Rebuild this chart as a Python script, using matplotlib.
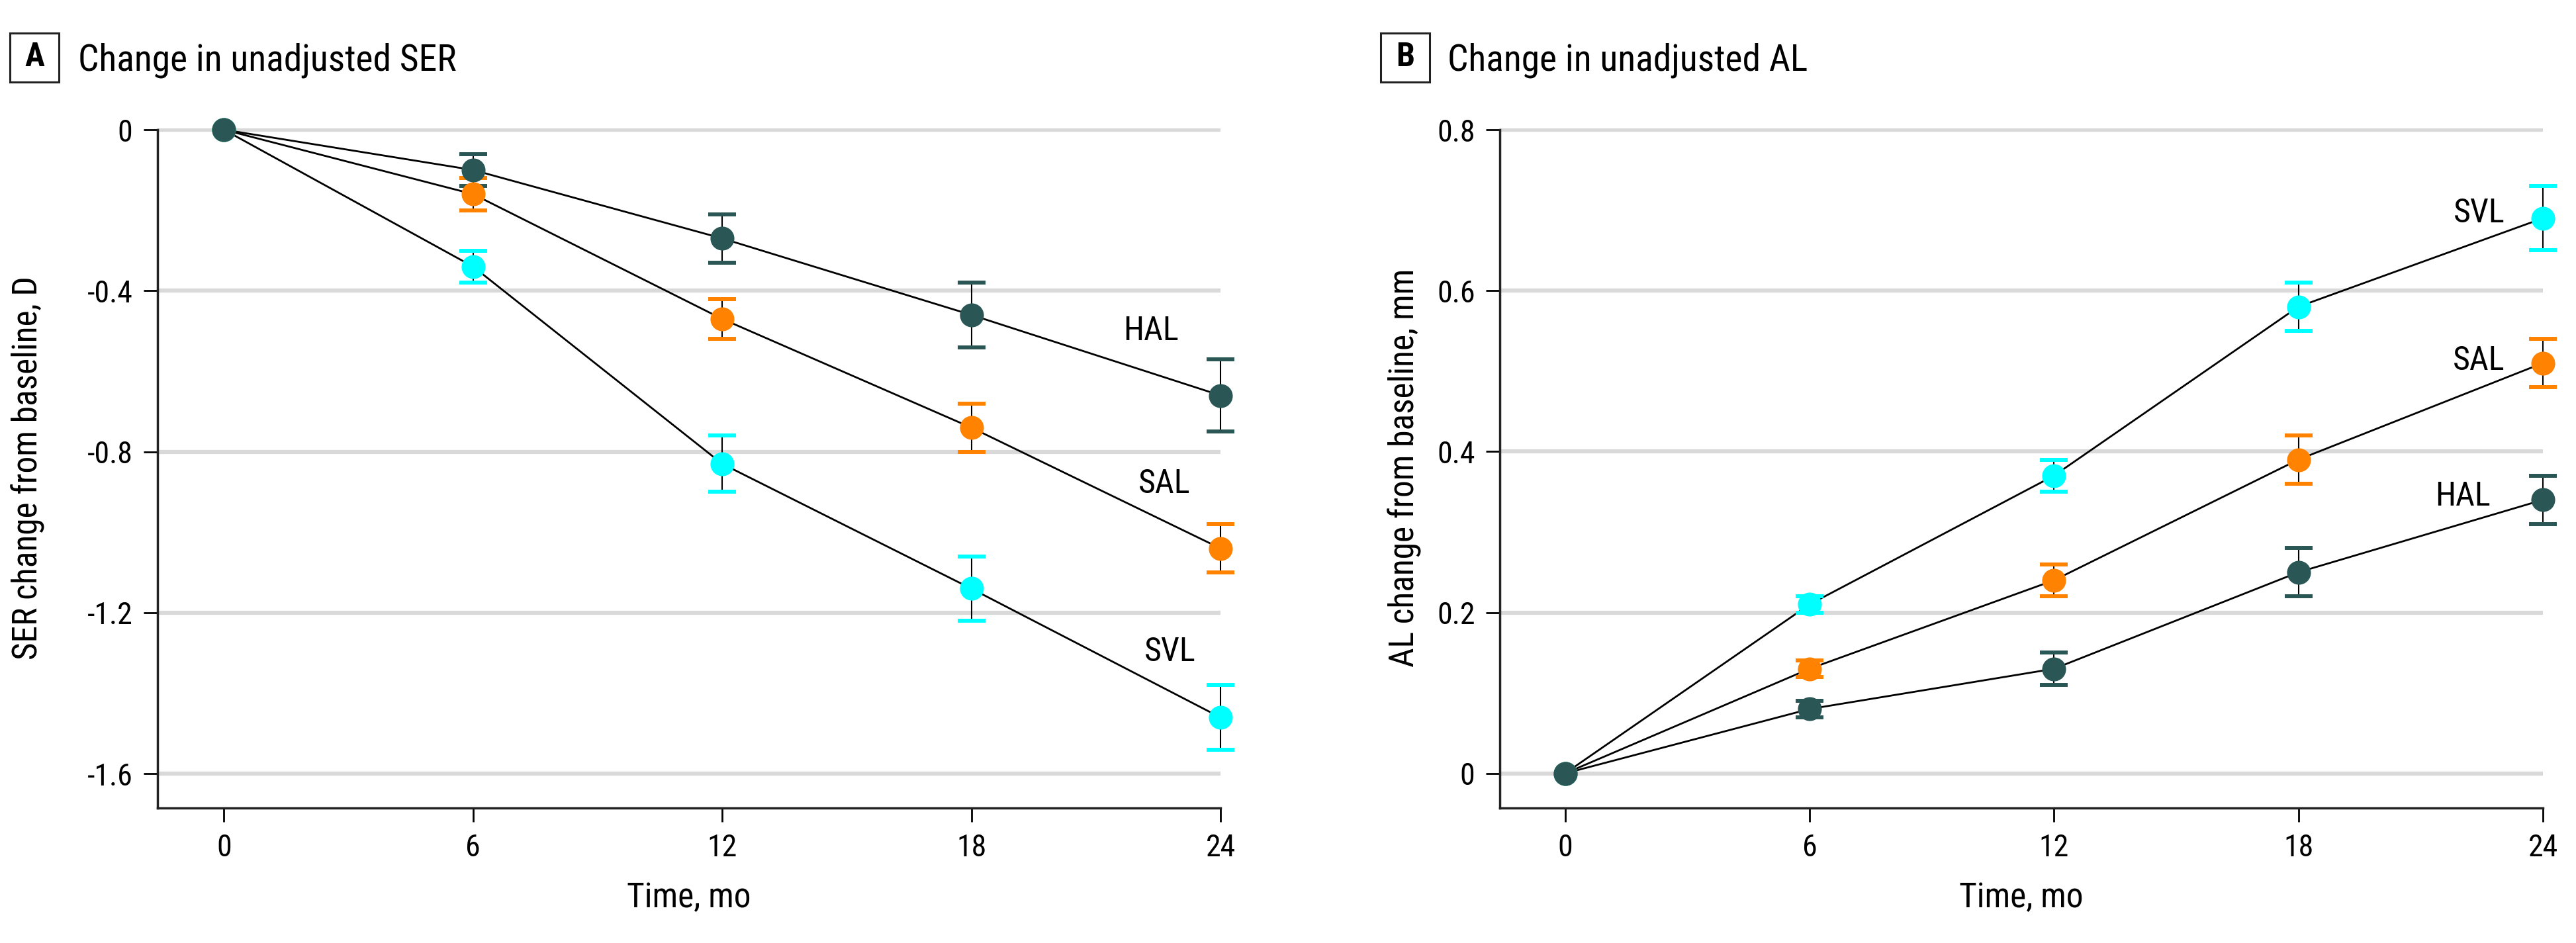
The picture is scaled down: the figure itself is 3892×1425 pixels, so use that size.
import matplotlib
matplotlib.use("Agg")
import matplotlib.pyplot as plt
from matplotlib import font_manager
from matplotlib.patches import Rectangle

# pick a narrow sans if available
def pick_font():
    for name in ["Liberation Sans Narrow", "Roboto Condensed", "Open Sans Condensed"]:
        try:
            font_manager.findfont(name, fallback_to_default=False)
            return name
        except Exception:
            pass
    return "DejaVu Sans"

FONT = pick_font()
plt.rcParams['font.family'] = [FONT, 'DejaVu Sans']
plt.rcParams['axes.unicode_minus'] = False

# Data
months = [0, 6, 12, 18, 24]
groups = ["HAL", "SAL", "SVL"]

ser_hal = [0, -0.10, -0.27, -0.46, -0.66]
ser_sal = [0, -0.16, -0.47, -0.74, -1.04]
ser_svl = [0, -0.34, -0.83, -1.14, -1.46]
ser_hal_err = [0.04, 0.06, 0.08, 0.09]
ser_sal_err = [0.04, 0.05, 0.06, 0.06]
ser_svl_err = [0.04, 0.07, 0.08, 0.08]

al_hal = [0, 0.08, 0.13, 0.25, 0.34]
al_sal = [0, 0.13, 0.24, 0.39, 0.51]
al_svl = [0, 0.21, 0.37, 0.58, 0.69]
al_hal_err = [0.01, 0.02, 0.03, 0.03]
al_sal_err = [0.01, 0.02, 0.03, 0.03]
al_svl_err = [0.01, 0.02, 0.03, 0.04]

ser_yticks = [0, -0.4, -0.8, -1.2, -1.6]
ser_yticklabels = ["0", "-0.4", "-0.8", "-1.2", "-1.6"]
al_yticks = [0, 0.2, 0.4, 0.6, 0.8]
al_yticklabels = ["0", "0.2", "0.4", "0.6", "0.8"]

colors = {"HAL": "#2a5755", "SAL": "#ff8200", "SVL": "#00ffff"}

W, H = 3892, 1425
fig = plt.figure(figsize=(W / 100, H / 100), dpi=100)

def fx(px):
    return px / W

def fy(px):
    return 1 - px / H

axA = fig.add_axes([fx(238), fy(1221), fx(1844) - fx(238), fy(193.6) - fy(1221)])
axB = fig.add_axes([fx(2266), fy(1221), fx(3842) - fx(2266), fy(193.6) - fy(1221)])

def draw_panel(ax, series, errs, yticks, yticklabels, ylim, label_pos):
    for g in groups:
        y = series[g]
        ax.plot(months, y, color='black', lw=2.0, zorder=3, clip_on=False)
        _, caps, bars = ax.errorbar(months[1:], y[1:], yerr=errs[g], fmt='none',
                                    ecolor='black', elinewidth=1.5, capsize=15,
                                    capthick=4.3, zorder=4)
        for c in caps:
            c.set_markeredgecolor(colors[g])
            c.set_color(colors[g])
            c.set_clip_on(False)
        for b in bars:
            b.set_clip_on(False)
        ax.plot(months, y, 'o', color=colors[g], ms=26, mew=0, zorder=5, clip_on=False)
    # zero point drawn last in HAL color
    ax.plot(months[:1], series["HAL"][:1], 'o', color=colors["HAL"], ms=26, mew=0,
            zorder=6, clip_on=False)
    for g in groups:
        lx, ly = label_pos[g]
        ax.text(lx, ly, g, ha='right', va='center', fontsize=36, zorder=7)

    ax.set_xlim(-1.6, 24)
    ax.set_ylim(*ylim)
    ax.set_xticks(months)
    ax.set_xticklabels([str(m) for m in months])
    ax.set_yticks(yticks)
    ax.set_yticklabels(yticklabels)
    ax.tick_params(axis='both', labelsize=33, length=15, width=2, color='black', pad=12)
    ax.grid(axis='y', color='#d9d9d9', lw=4.5, zorder=0)
    ax.set_axisbelow(True)
    for s in ['top', 'right']:
        ax.spines[s].set_visible(False)
    for s in ['left', 'bottom']:
        ax.spines[s].set_linewidth(2.5)
        ax.spines[s].set_color('#222222')

draw_panel(axA,
           {"HAL": ser_hal, "SAL": ser_sal, "SVL": ser_svl},
           {"HAL": ser_hal_err, "SAL": ser_sal_err, "SVL": ser_svl_err},
           ser_yticks, ser_yticklabels, (-1.685, 0.004),
           {"HAL": (23.0, -0.50), "SAL": (23.27, -0.88), "SVL": (23.4, -1.297)})
axA.spines['left'].set_bounds(-1.685, 0)

draw_panel(axB,
           {"HAL": al_hal, "SAL": al_sal, "SVL": al_svl},
           {"HAL": al_hal_err, "SAL": al_sal_err, "SVL": al_svl_err},
           al_yticks, al_yticklabels, (-0.043, 0.802),
           {"HAL": (22.72, 0.344), "SAL": (23.06, 0.513), "SVL": (23.06, 0.696)})
axB.spines['left'].set_bounds(-0.043, 0.8)

# axis labels
fig.text(fx(42), fy(707), "SER change from baseline, D", rotation=90,
         ha='center', va='center', fontsize=37)
fig.text(fx(2122), fy(707), "AL change from baseline, mm", rotation=90,
         ha='center', va='center', fontsize=37)
fig.text(fx(1041), fy(1357), "Time, mo", ha='center', va='center', fontsize=37)
fig.text(fx(3054), fy(1357), "Time, mo", ha='center', va='center', fontsize=37)

# panel headers
for bx, letter, tx, title in [(15, "A", 118, "Change in unadjusted SER"),
                              (2086, "B", 2187, "Change in unadjusted AL")]:
    fig.patches.append(Rectangle((fx(bx), fy(124)), fx(74), fy(50) - fy(124),
                                 transform=fig.transFigure, fill=False,
                                 edgecolor='#222222', lw=2.2))
    fig.text(fx(bx + 37), fy(87), letter, ha='center', va='center',
             fontsize=36, fontweight='bold')
    fig.text(fx(tx), fy(107), title, ha='left', va='baseline', fontsize=40)

fig.savefig("out.png", dpi=100)
